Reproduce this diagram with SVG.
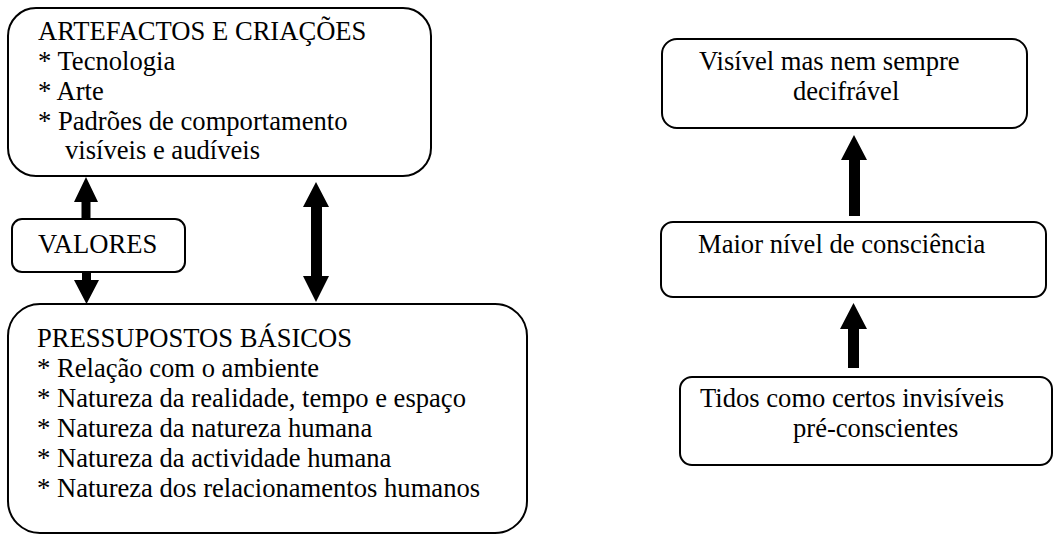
<svg xmlns="http://www.w3.org/2000/svg" width="1053" height="535" viewBox="0 0 1053 535">
<style>
.box{fill:#fff;stroke:#000;stroke-width:2}
.t{font-family:'Liberation Serif','Times New Roman',serif;font-size:26.6px;fill:#000}
.arr{fill:#000;stroke:none}
</style>
<rect width="1053" height="535" fill="#fff"/>
<g id="connectors">
<polygon class="arr" points="86,177 98,202 90.5,202 90.5,220 81.5,220 81.5,202 74,202"/>
<polygon class="arr" points="82,272 91,272 91,280 99,280 86.5,304 74,280 82,280"/>
<polygon class="arr" points="316,182 329,207 322,207 322,276 329,276 316,302 303,276 311,276 311,207 303,207"/>
<polygon class="arr" points="854,135 867,160 860,160 860,216 849,216 849,160 841,160"/>
<polygon class="arr" points="853.5,303 867,329 859,329 859,368 848,368 848,329 840,329"/>
</g>
<g id="artefactos">
<rect class="box" x="8" y="8" width="423" height="168" rx="28"/>
<text class="t" x="38" y="40">ARTEFACTOS E CRIAÇÕES</text>
<text class="t" x="38" y="70">* Tecnologia</text>
<text class="t" x="38" y="100">* Arte</text>
<text class="t" x="38" y="130">* Padrões de comportamento</text>
<text class="t" x="65" y="159">visíveis e audíveis</text>
</g>
<g id="valores">
<rect class="box" x="12" y="219" width="173" height="53" rx="10"/>
<text class="t" x="38" y="253">VALORES</text>
</g>
<g id="pressupostos">
<rect class="box" x="8" y="304" width="519" height="229" rx="32"/>
<text class="t" x="37" y="347">PRESSUPOSTOS BÁSICOS</text>
<text class="t" x="37" y="377">* Relação com o ambiente</text>
<text class="t" x="37" y="407">* Natureza da realidade, tempo e espaço</text>
<text class="t" x="37" y="437">* Natureza da natureza humana</text>
<text class="t" x="37" y="467">* Natureza da actividade humana</text>
<text class="t" x="37" y="497">* Natureza dos relacionamentos humanos</text>
</g>
<g id="visivel">
<rect class="box" x="662" y="39" width="365" height="89" rx="15"/>
<text class="t" x="699" y="70">Visível mas nem sempre</text>
<text class="t" x="793" y="100">decifrável</text>
</g>
<g id="maior">
<rect class="box" x="661" y="222" width="385" height="75" rx="12"/>
<text class="t" x="698" y="253">Maior nível de consciência</text>
</g>
<g id="tidos">
<rect class="box" x="680" y="377" width="372" height="88" rx="12"/>
<text class="t" x="700" y="407">Tidos como certos invisíveis</text>
<text class="t" x="793" y="437">pré-conscientes</text>
</g>
</svg>
